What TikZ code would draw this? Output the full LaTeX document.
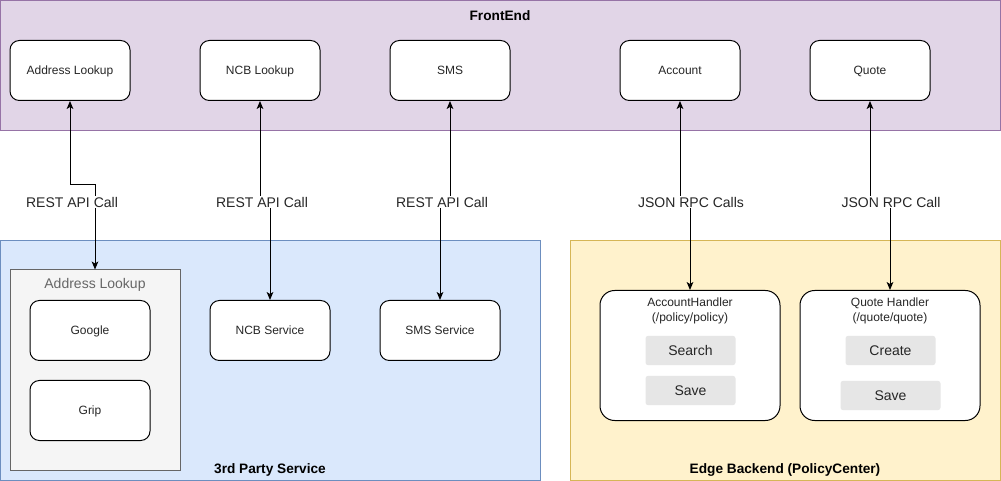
\documentclass[tikz,border=0pt]{standalone}
\usepackage{fontspec}
\setmainfont{Liberation Sans}
\usetikzlibrary{arrows.meta}
\definecolor{feFill}{HTML}{E1D5E7}
\definecolor{feLine}{HTML}{9673A6}
\definecolor{tpFill}{HTML}{DAE8FC}
\definecolor{tpLine}{HTML}{6C8EBF}
\definecolor{ebFill}{HTML}{FFF2CC}
\definecolor{ebLine}{HTML}{D6B656}
\definecolor{grpFill}{HTML}{F5F5F5}
\definecolor{grpLine}{HTML}{666666}
\definecolor{btnFill}{HTML}{E6E6E6}
\definecolor{txt}{HTML}{262626}

\begin{document}
\begin{tikzpicture}[x=0.75pt,y=-0.75pt,
    box/.style={draw,fill=white,line width=0.75pt,rounded corners=7pt,inner sep=0pt,
        minimum width=90pt,minimum height=45pt,text height=6.5pt,text depth=0pt,
        text=txt,font=\fontsize{9}{11}\selectfont},
    handler/.style={box,rounded corners=11pt,minimum width=135pt,minimum height=97.5pt},
    btn/.style={fill=btnFill,rounded corners=2pt,inner sep=0pt,minimum width=67.5pt,
        minimum height=22pt,text height=7.5pt,text depth=0pt,text=txt,
        font=\fontsize{10.5}{12}\selectfont},
    title/.style={text=black,font=\bfseries\fontsize{10.25}{12}\selectfont},
    lbl/.style={fill=white,inner sep=1pt,text=txt,font=\fontsize{10.5}{12}\selectfont},
    call/.style={line width=0.75pt,
        {Stealth[length=6pt,width=5pt,inset=1.5pt]}-{Stealth[length=6pt,width=5pt,inset=1.5pt]}}]
    \useasboundingbox (0,0) rectangle (1001,481);

    % Containers
    \draw[fill=feFill,draw=feLine,line width=0.75pt] (0.5,0.5) rectangle (1000.5,130.5);
    \draw[fill=tpFill,draw=tpLine,line width=0.75pt] (0.5,240.5) rectangle (540.5,480.5);
    \draw[fill=ebFill,draw=ebLine,line width=0.75pt] (570.5,240.5) rectangle (1000.5,480.5);
    \node[title] (feTitle) at (500,16) {FrontEnd};
    \node[title] (tpTitle) at (270,470) {3rd Party Service};
    \node[title] (ebTitle) at (785,470) {Edge Backend (PolicyCenter)};

    % FrontEnd boxes
    \foreach \n/\x/\t in {al/70/Address Lookup, ncbl/260/NCB Lookup, sms/450/SMS,
                          acc/680/Account, quote/870/Quote} {
        \node[box] (\n) at (\x,70.5) {\t};
    }

    % 3rd party services
    \node[draw=grpLine,fill=grpFill,line width=0.75pt,minimum width=127.5pt,
          minimum height=150pt,inner sep=0pt] (grp) at (95,370) {};
    \node[text=grpLine,font=\fontsize{10.5}{12}\selectfont] (grpTitle) at (95,285) {Address Lookup};
    \node[box] (google) at (90,330.5) {Google};
    \node[box] (grip) at (90,410.5) {Grip};
    \node[box] (ncbs) at (270,330.5) {NCB Service};
    \node[box] (smss) at (440,330.5) {SMS Service};

    % Edge backend handlers
    \node[handler] (ah) at (690,355.5) {};
    \node[align=center,text=txt,font=\fontsize{9}{11.25}\selectfont] (ahTitle) at (690,310.5)
        {AccountHandler\\(/policy/policy)};
    \node[btn] (search) at (690.5,350.5) {Search};
    \node[btn] (save1) at (690.5,390.5) {Save};
    \node[handler] (qh) at (890,355.5) {};
    \node[align=center,text=txt,font=\fontsize{9}{11.25}\selectfont] (qhTitle) at (890,310.5)
        {Quote Handler\\(/quote/quote)};
    \node[btn] (create) at (890.5,350.5) {Create};
    \node[btn,minimum width=75pt] (save2) at (890.5,395.5) {Save};

    % Calls
    \coordinate (bend) at (70,185);
    \coordinate (j2) at (262,202);
    \coordinate (j3) at (442,202);
    \coordinate (j4) at (691,202);
    \coordinate (j5) at (891,202);
    \draw[call] (al.south) -- (bend) -| (grp.north);
    \draw[call] (ncbl.south) -- (ncbl.south |- j2) -- (j2 -| ncbs.north) -- (ncbs.north);
    \draw[call] (sms.south) -- (sms.south |- j3) -- (j3 -| smss.north) -- (smss.north);
    \draw[call] (acc.south) -- (acc.south |- j4) -- (j4 -| ah.north) -- (ah.north);
    \draw[call] (quote.south) -- (quote.south |- j5) -- (j5 -| qh.north) -- (qh.north);

    \node[lbl] (l1) at (72,202) {REST API Call};
    \node[lbl] (l2) at (j2) {REST API Call};
    \node[lbl] (l3) at (j3) {REST API Call};
    \node[lbl] (l4) at (j4) {JSON RPC Calls};
    \node[lbl] (l5) at (j5) {JSON RPC Call};
\end{tikzpicture}
\end{document}
